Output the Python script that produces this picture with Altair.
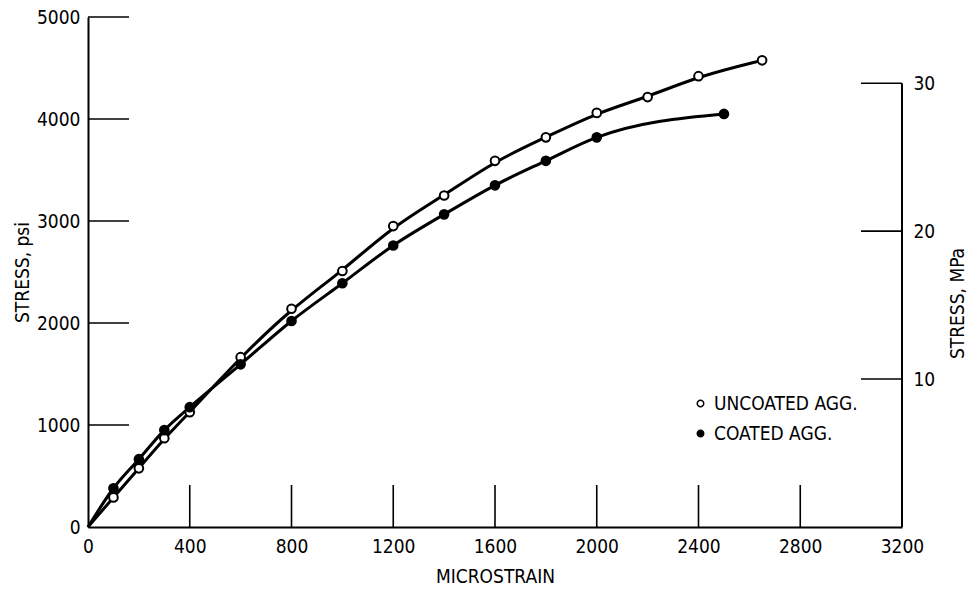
import altair as alt
import pandas as pd

# ---- data ----
uncoated_strain = [0, 100, 200, 300, 400, 600, 800, 1000, 1200, 1400, 1600, 1800, 2000, 2200, 2400, 2650]
uncoated_stress = [0, 290, 575, 870, 1125, 1665, 2140, 2510, 2950, 3250, 3590, 3820, 4060, 4215, 4420, 4575]
coated_strain = [0, 100, 200, 300, 400, 600, 800, 1000, 1200, 1400, 1600, 1800, 2000, 2500]
coated_stress = [0, 380, 665, 950, 1175, 1595, 2020, 2390, 2760, 3065, 3350, 3590, 3820, 4050]

x_ticks = [0, 400, 800, 1200, 1600, 2000, 2400, 2800, 3200]
psi_ticks = [0, 1000, 2000, 3000, 4000, 5000]
mpa_ticks = [10, 20, 30]
PSI_PER_MPA = 145.038

series_names = ["UNCOATED AGG.", "COATED AGG."]

rows = []
for s, v in zip(uncoated_strain, uncoated_stress):
    rows.append({"strain": s, "stress": v, "series": series_names[0], "marker": s > 0})
for s, v in zip(coated_strain, coated_stress):
    rows.append({"strain": s, "stress": v, "series": series_names[1], "marker": s > 0})
df = pd.DataFrame(rows)

FONT = "'Liberation Sans Narrow', 'DejaVu Sans Condensed', 'Arial Narrow', sans-serif"
FS = 19
W, H = 814, 510

xenc = alt.X("strain:Q", scale=alt.Scale(domain=[0, 3200], nice=False),
             axis=alt.Axis(values=x_ticks, title="MICROSTRAIN", tickSize=0, grid=False, format="d",
                           labelFlush=False, labelPadding=10, titlePadding=11))
yenc = alt.Y("stress:Q", scale=alt.Scale(domain=[0, 5000], nice=False),
             axis=alt.Axis(values=psi_ticks, title="STRESS, psi", tickSize=0, grid=False, format="d",
                           labelFlush=False, labelPadding=8, titleX=-56, titleBaseline="bottom",
                           titleAngle=270))

line_unc = alt.Chart(df).transform_filter(
    alt.datum.series == series_names[0]
).mark_line(color="black", strokeWidth=3, interpolate="basis").encode(x=xenc, y=yenc)

line_coa = alt.Chart(df).transform_filter(
    alt.datum.series == series_names[1]
).mark_line(color="black", strokeWidth=3, interpolate="monotone").encode(x="strain:Q", y="stress:Q")

points = alt.Chart(df).transform_filter("datum.marker").mark_point(
    shape="circle", size=75, stroke="black", strokeWidth=2, opacity=1, filled=False
).encode(
    x="strain:Q", y="stress:Q",
    fill=alt.Fill("series:N", scale=alt.Scale(domain=series_names, range=["white", "black"]),
                  legend=alt.Legend(title=None, orient="none", legendX=603, legendY=377,
                                    symbolType="circle", symbolSize=42,
                                    symbolStrokeColor="black", symbolStrokeWidth=1.5,
                                    labelFont=FONT, labelFontSize=FS, labelColor="black",
                                    labelLimit=400, labelOffset=4, rowPadding=10, padding=0)),
)

xt = alt.Chart(pd.DataFrame({"t": x_ticks[1:-1]})).mark_rule(color="black", strokeWidth=1.6).encode(
    x="t:Q", y=alt.value(H), y2=alt.value(H - 42))
yt = alt.Chart(pd.DataFrame({"t": psi_ticks[1:]})).mark_rule(color="black", strokeWidth=1.6).encode(
    y="t:Q", x=alt.value(0), x2=alt.value(41))

left = alt.layer(line_unc, line_coa, points, xt, yt)

mpa_df = pd.DataFrame({"t": mpa_ticks})
right_line = alt.Chart(pd.DataFrame({"hi": [max(mpa_ticks)], "lo": [0]})).mark_rule(
    color="black", strokeWidth=2).encode(
    y=alt.Y("hi:Q", scale=alt.Scale(domain=[0, 5000 / PSI_PER_MPA], nice=False),
            axis=alt.Axis(orient="right", values=mpa_ticks, title="STRESS, MPa", tickSize=0,
                          domain=False, grid=False, labelPadding=11, labelFlush=False,
                          titleAngle=270, titleBaseline="top", titleX=46, titleY=286)),
    y2="lo:Q", x=alt.value(W))
right_ticks = alt.Chart(mpa_df).mark_rule(color="black", strokeWidth=1.6).encode(
    y="t:Q", x=alt.value(W - 41), x2=alt.value(W))
right = alt.layer(right_line, right_ticks)

chart = alt.layer(left, right).resolve_scale(y="independent").properties(
    width=W, height=H, autosize="none",
    padding={"left": 88, "top": 17, "right": 65, "bottom": 66},
).configure_view(stroke=None).configure_axis(
    domainColor="black", domainWidth=2, labelColor="black", titleColor="black",
    labelFont=FONT, titleFont=FONT, labelFontSize=FS, titleFontSize=FS,
    titleFontWeight="normal",
)

chart.save("out.html", embed_options={"renderer": "svg", "actions": False})
